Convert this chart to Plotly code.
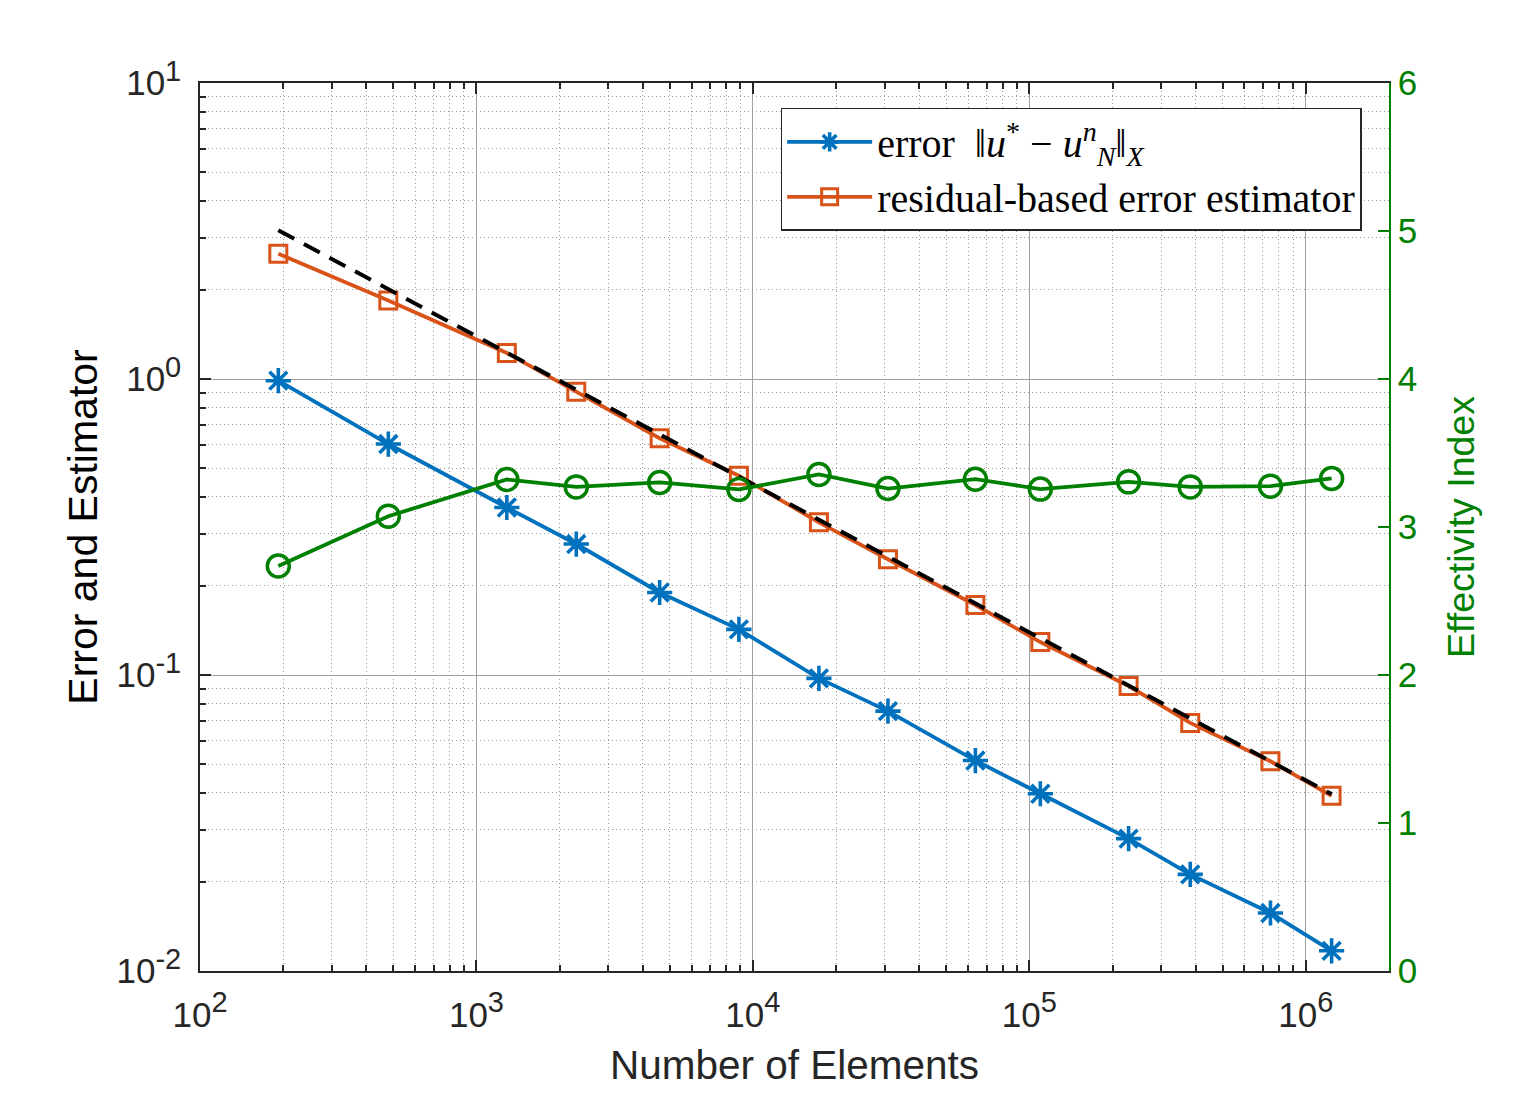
import plotly.graph_objects as go

# number of elements in each refinement step
n_elements = [192, 480, 1288, 2297, 4600, 8900, 17330, 30800, 63800, 109600,
              228600, 382000, 745000, 1240000]
# error ||u* - u_N^n||_X
error = [0.987, 0.603, 0.368, 0.277, 0.190, 0.1426, 0.0974, 0.0755, 0.0514,
         0.0397, 0.0280, 0.0212, 0.0157, 0.0117]
# residual-based error estimator
estimator = [2.65, 1.84, 1.224, 0.906, 0.631, 0.471, 0.328, 0.246, 0.1724,
             0.1292, 0.0918, 0.0689, 0.0511, 0.0391]
# effectivity index (right axis)
effectivity = [2.736, 3.073, 3.321, 3.271, 3.301, 3.254, 3.355, 3.260, 3.323,
               3.256, 3.305, 3.271, 3.276, 3.328]
# reference slope N^(-1/2)
ref_x = [192, 1240000]
ref_y = [3.18, 0.0396]


def pow10(p):
    return '10<sup><span style="font-size:29px">%s</span></sup>' % p


x_ticks = [1e2, 1e3, 1e4, 1e5, 1e6]
x_ticktext = [pow10(p) for p in ["2", "3", "4", "5", "6"]]
y_ticks = [1e-2, 1e-1, 1e0, 1e1]
y_ticktext = [pow10(p) for p in ["-2", "-1", "0", "1"]]
y2_ticks = [0, 1, 2, 3, 4, 5, 6]

BLUE = "#0072BD"
ORANGE = "#D95319"
GREEN = "#008000"
AXC = "#262626"

minor_x = [m * 10 ** e for e in range(2, 7) for m in range(2, 10) if m * 10 ** e <= 2e6]
minor_y = [m * 10 ** e for e in range(-2, 1) for m in range(2, 10)]

fig = go.Figure()

fig.add_trace(go.Scatter(
    x=n_elements, y=error, mode="lines+markers",
    name="error  \u2016<i>u</i><sup>*</sup> \u2212 <i>u</i><sup><i>n</i></sup><sub><i>N</i></sub>\u2016<sub><i>X</i></sub>",
    line=dict(color=BLUE, width=3.8),
    marker=dict(symbol="asterisk-open", size=21, line=dict(color=BLUE, width=3.6)),
))
fig.add_trace(go.Scatter(
    x=n_elements, y=estimator, mode="lines+markers",
    name="residual-based error estimator",
    line=dict(color=ORANGE, width=3.8),
    marker=dict(symbol="square-open", size=17, line=dict(color=ORANGE, width=3)),
))
fig.add_trace(go.Scatter(
    x=ref_x, y=ref_y, mode="lines", showlegend=False,
    line=dict(color="black", width=4, dash="18px,11px"),
))
fig.add_trace(go.Scatter(
    x=n_elements, y=effectivity, mode="lines+markers", yaxis="y2",
    showlegend=False,
    line=dict(color=GREEN, width=3.8),
    marker=dict(symbol="circle-open", size=22, line=dict(color=GREEN, width=3.5)),
))

SANS = "Liberation Sans, Arial, sans-serif"
tickfont = dict(family=SANS, size=35, color=AXC)

grid_major = "#a0a0a0"
grid_minor = "#9a9a9a"

fig.update_layout(
    width=1528, height=1089,
    margin=dict(l=192, r=147, t=75, b=126),
    paper_bgcolor="white", plot_bgcolor="white",
    xaxis=dict(
        type="log", range=[2, 6.30103],
        tickmode="array", tickvals=x_ticks, ticktext=x_ticktext,
        tickfont=tickfont, ticks="inside", ticklen=11, tickwidth=1.5, tickcolor=AXC,
        ticklabelstandoff=12,
        showline=True, linecolor=AXC, linewidth=1.5, mirror="ticks",
        showgrid=True, gridcolor=grid_major, gridwidth=1.2,
        minor=dict(tickmode="array", tickvals=minor_x, ticks="inside", ticklen=6,
                   tickcolor=AXC, showgrid=True, gridcolor=grid_minor,
                   griddash="1px,3px", gridwidth=1),
        title=dict(text="Number of Elements", font=dict(family=SANS, size=40.5, color=AXC),
                   standoff=18),
        zeroline=False,
    ),
    yaxis=dict(
        type="log", range=[-2, 1],
        tickmode="array", tickvals=y_ticks, ticktext=y_ticktext,
        tickfont=tickfont, ticks="inside", ticklen=11, tickwidth=1.5, tickcolor=AXC,
        ticklabelstandoff=10,
        showline=True, linecolor=AXC, linewidth=1.5, mirror=False,
        showgrid=True, gridcolor=grid_major, gridwidth=1.2,
        minor=dict(tickmode="array", tickvals=minor_y, ticks="inside", ticklen=6,
                   tickcolor=AXC, showgrid=True, gridcolor=grid_minor,
                   griddash="1px,3px", gridwidth=1),
        title=dict(text="Error and Estimator", font=dict(family=SANS, size=41, color="black"),
                   standoff=6),
        zeroline=False,
    ),
    yaxis2=dict(
        overlaying="y", side="right", range=[0, 6],
        tickmode="array", tickvals=y2_ticks,
        tickfont=dict(tickfont, color=GREEN), ticks="inside", ticklen=11,
        tickwidth=1.5, tickcolor=GREEN,
        showline=True, linecolor=GREEN, linewidth=1.5,
        showgrid=False, zeroline=False,
        title=dict(text="Effectivity Index", font=dict(family=SANS, size=37.5, color=GREEN),
                   standoff=32),
    ),
    legend=dict(
        x=0.977, y=0.972, xanchor="right", yanchor="top",
        bgcolor="white", bordercolor=AXC, borderwidth=1.5,
        font=dict(family="Liberation Serif, Times New Roman, serif", size=40, color="black"),
        itemwidth=85, tracegroupgap=0,
    ),
    showlegend=True,
)

fig.write_html("out.html")
